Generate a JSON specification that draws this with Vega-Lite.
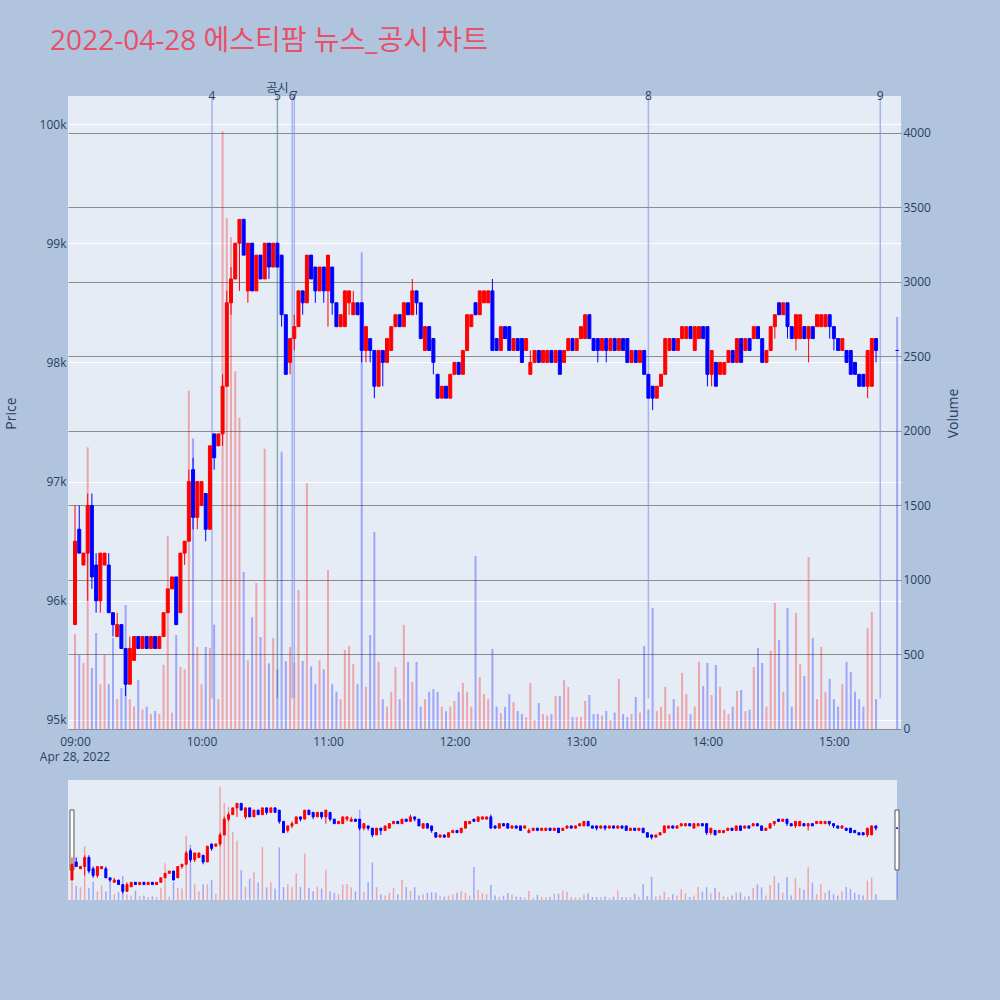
{
"$schema":"https://vega.github.io/schema/vega-lite/v6.json",
"background":"#b0c4de",
"padding":{"left":4,"top":27,"right":40,"bottom":100},
"spacing":16,
"config":{
 "view":{"stroke":null,"fill":"#e5ecf6"},
 "font":"Open Sans"
},
"title":{"text":"2022-04-28 에스티팜 뉴스_공시 차트","anchor":"start","fontSize":28,"color":"#ea4f66","font":"Open Sans, Noto Sans CJK KR","fontWeight":"normal","offset":26,"dx":46},
"data":{"values":[
{"t":"2022-04-28T09:00","o":95800,"h":96800,"l":95800,"c":96500,"v":637},
{"t":"2022-04-28T09:02","o":96600,"h":96800,"l":96400,"c":96400,"v":497},
{"t":"2022-04-28T09:04","o":96300,"h":96400,"l":96300,"c":96400,"v":443},
{"t":"2022-04-28T09:06","o":96400,"h":96900,"l":96000,"c":96800,"v":1890},
{"t":"2022-04-28T09:08","o":96800,"h":96900,"l":96100,"c":96200,"v":410},
{"t":"2022-04-28T09:10","o":96300,"h":96400,"l":95900,"c":96000,"v":644},
{"t":"2022-04-28T09:12","o":96000,"h":96400,"l":95900,"c":96400,"v":300},
{"t":"2022-04-28T09:14","o":96300,"h":96400,"l":96300,"c":96400,"v":500},
{"t":"2022-04-28T09:16","o":96300,"h":96400,"l":95900,"c":95900,"v":300},
{"t":"2022-04-28T09:18","o":95900,"h":95900,"l":95700,"c":95800,"v":610},
{"t":"2022-04-28T09:20","o":95700,"h":95900,"l":95700,"c":95800,"v":200},
{"t":"2022-04-28T09:22","o":95800,"h":95800,"l":95600,"c":95600,"v":275},
{"t":"2022-04-28T09:24","o":95600,"h":95600,"l":95200,"c":95300,"v":832},
{"t":"2022-04-28T09:26","o":95300,"h":95700,"l":95300,"c":95600,"v":200},
{"t":"2022-04-28T09:28","o":95500,"h":95700,"l":95500,"c":95700,"v":150},
{"t":"2022-04-28T09:30","o":95700,"h":95700,"l":95600,"c":95600,"v":329},
{"t":"2022-04-28T09:32","o":95600,"h":95700,"l":95600,"c":95700,"v":130},
{"t":"2022-04-28T09:34","o":95700,"h":95700,"l":95600,"c":95600,"v":150},
{"t":"2022-04-28T09:36","o":95600,"h":95700,"l":95600,"c":95700,"v":100},
{"t":"2022-04-28T09:38","o":95700,"h":95700,"l":95600,"c":95600,"v":120},
{"t":"2022-04-28T09:40","o":95600,"h":95700,"l":95600,"c":95700,"v":100},
{"t":"2022-04-28T09:42","o":95700,"h":95900,"l":95700,"c":95900,"v":430},
{"t":"2022-04-28T09:44","o":95900,"h":96100,"l":95900,"c":96100,"v":1295},
{"t":"2022-04-28T09:46","o":96100,"h":96200,"l":96100,"c":96200,"v":110},
{"t":"2022-04-28T09:48","o":96200,"h":96200,"l":95800,"c":95800,"v":630},
{"t":"2022-04-28T09:50","o":95900,"h":96400,"l":95900,"c":96400,"v":416},
{"t":"2022-04-28T09:52","o":96400,"h":96500,"l":96300,"c":96500,"v":400},
{"t":"2022-04-28T09:54","o":96500,"h":97100,"l":96500,"c":97000,"v":2270},
{"t":"2022-04-28T09:56","o":97100,"h":97200,"l":96600,"c":96700,"v":1950},
{"t":"2022-04-28T09:58","o":96700,"h":97000,"l":96600,"c":97000,"v":550},
{"t":"2022-04-28T10:00","o":96800,"h":97000,"l":96800,"c":97000,"v":300},
{"t":"2022-04-28T10:02","o":96900,"h":96900,"l":96500,"c":96600,"v":550},
{"t":"2022-04-28T10:04","o":96600,"h":97300,"l":96600,"c":97300,"v":545},
{"t":"2022-04-28T10:06","o":97400,"h":97400,"l":97100,"c":97200,"v":700},
{"t":"2022-04-28T10:08","o":97300,"h":97400,"l":97300,"c":97400,"v":200},
{"t":"2022-04-28T10:10","o":97400,"h":97900,"l":97300,"c":97800,"v":4013},
{"t":"2022-04-28T10:12","o":97800,"h":98600,"l":97800,"c":98500,"v":3430},
{"t":"2022-04-28T10:14","o":98500,"h":98800,"l":98400,"c":98700,"v":3300},
{"t":"2022-04-28T10:16","o":98700,"h":99000,"l":98700,"c":99000,"v":2400},
{"t":"2022-04-28T10:18","o":99000,"h":99200,"l":98600,"c":99200,"v":2090},
{"t":"2022-04-28T10:20","o":99200,"h":99200,"l":98900,"c":98900,"v":1054},
{"t":"2022-04-28T10:22","o":98600,"h":99000,"l":98500,"c":99000,"v":460},
{"t":"2022-04-28T10:24","o":99000,"h":99000,"l":98600,"c":98600,"v":750},
{"t":"2022-04-28T10:26","o":98600,"h":98900,"l":98600,"c":98900,"v":980},
{"t":"2022-04-28T10:28","o":98900,"h":98900,"l":98700,"c":98700,"v":617},
{"t":"2022-04-28T10:30","o":98700,"h":99000,"l":98700,"c":99000,"v":1880},
{"t":"2022-04-28T10:32","o":99000,"h":99000,"l":98700,"c":98800,"v":440},
{"t":"2022-04-28T10:34","o":98800,"h":99000,"l":98800,"c":99000,"v":610},
{"t":"2022-04-28T10:36","o":99000,"h":99000,"l":98800,"c":98800,"v":400},
{"t":"2022-04-28T10:38","o":98900,"h":98900,"l":98300,"c":98400,"v":1860},
{"t":"2022-04-28T10:40","o":98400,"h":98400,"l":97900,"c":97900,"v":455},
{"t":"2022-04-28T10:42","o":98000,"h":98200,"l":97900,"c":98200,"v":550},
{"t":"2022-04-28T10:44","o":98200,"h":98400,"l":98100,"c":98300,"v":445},
{"t":"2022-04-28T10:46","o":98300,"h":98600,"l":98300,"c":98600,"v":932},
{"t":"2022-04-28T10:48","o":98600,"h":98600,"l":98400,"c":98500,"v":456},
{"t":"2022-04-28T10:50","o":98500,"h":98900,"l":98500,"c":98900,"v":1650},
{"t":"2022-04-28T10:52","o":98900,"h":98900,"l":98700,"c":98700,"v":420},
{"t":"2022-04-28T10:54","o":98800,"h":98800,"l":98500,"c":98600,"v":300},
{"t":"2022-04-28T10:56","o":98600,"h":98800,"l":98600,"c":98800,"v":460},
{"t":"2022-04-28T10:58","o":98800,"h":98800,"l":98500,"c":98600,"v":400},
{"t":"2022-04-28T11:00","o":98600,"h":98900,"l":98300,"c":98900,"v":1067},
{"t":"2022-04-28T11:02","o":98800,"h":98800,"l":98400,"c":98500,"v":300},
{"t":"2022-04-28T11:04","o":98500,"h":98500,"l":98300,"c":98300,"v":250},
{"t":"2022-04-28T11:06","o":98300,"h":98400,"l":98300,"c":98400,"v":200},
{"t":"2022-04-28T11:08","o":98300,"h":98600,"l":98300,"c":98600,"v":530},
{"t":"2022-04-28T11:10","o":98500,"h":98600,"l":98400,"c":98600,"v":557},
{"t":"2022-04-28T11:12","o":98400,"h":98600,"l":98400,"c":98500,"v":437},
{"t":"2022-04-28T11:14","o":98500,"h":98500,"l":98400,"c":98400,"v":300},
{"t":"2022-04-28T11:16","o":98500,"h":98500,"l":98000,"c":98100,"v":3200},
{"t":"2022-04-28T11:18","o":98100,"h":98300,"l":98000,"c":98300,"v":282},
{"t":"2022-04-28T11:20","o":98200,"h":98200,"l":98000,"c":98100,"v":630},
{"t":"2022-04-28T11:22","o":98100,"h":98100,"l":97700,"c":97800,"v":1322},
{"t":"2022-04-28T11:24","o":97800,"h":98100,"l":97800,"c":98100,"v":450},
{"t":"2022-04-28T11:26","o":98100,"h":98100,"l":97800,"c":98000,"v":200},
{"t":"2022-04-28T11:28","o":98000,"h":98200,"l":98000,"c":98200,"v":150},
{"t":"2022-04-28T11:30","o":98100,"h":98300,"l":98100,"c":98300,"v":250},
{"t":"2022-04-28T11:32","o":98300,"h":98400,"l":98300,"c":98400,"v":416},
{"t":"2022-04-28T11:34","o":98400,"h":98400,"l":98300,"c":98300,"v":200},
{"t":"2022-04-28T11:36","o":98300,"h":98500,"l":98300,"c":98500,"v":698},
{"t":"2022-04-28T11:38","o":98500,"h":98500,"l":98400,"c":98400,"v":450},
{"t":"2022-04-28T11:40","o":98400,"h":98700,"l":98400,"c":98600,"v":315},
{"t":"2022-04-28T11:42","o":98600,"h":98600,"l":98400,"c":98500,"v":450},
{"t":"2022-04-28T11:44","o":98500,"h":98500,"l":98200,"c":98200,"v":150},
{"t":"2022-04-28T11:46","o":98100,"h":98300,"l":98100,"c":98300,"v":200},
{"t":"2022-04-28T11:48","o":98300,"h":98300,"l":98100,"c":98100,"v":250},
{"t":"2022-04-28T11:50","o":98200,"h":98200,"l":97900,"c":98000,"v":268},
{"t":"2022-04-28T11:52","o":97900,"h":97900,"l":97700,"c":97700,"v":250},
{"t":"2022-04-28T11:54","o":97700,"h":97800,"l":97700,"c":97800,"v":150},
{"t":"2022-04-28T11:56","o":97800,"h":97800,"l":97700,"c":97700,"v":120},
{"t":"2022-04-28T11:58","o":97700,"h":97900,"l":97700,"c":97900,"v":150},
{"t":"2022-04-28T12:00","o":97900,"h":98000,"l":97900,"c":98000,"v":188},
{"t":"2022-04-28T12:02","o":98000,"h":98000,"l":97900,"c":97900,"v":250},
{"t":"2022-04-28T12:04","o":97900,"h":98100,"l":97900,"c":98100,"v":309},
{"t":"2022-04-28T12:06","o":98100,"h":98400,"l":98100,"c":98400,"v":250},
{"t":"2022-04-28T12:08","o":98300,"h":98400,"l":98300,"c":98400,"v":150},
{"t":"2022-04-28T12:10","o":98500,"h":98500,"l":98400,"c":98400,"v":1161},
{"t":"2022-04-28T12:12","o":98400,"h":98600,"l":98400,"c":98600,"v":349},
{"t":"2022-04-28T12:14","o":98500,"h":98600,"l":98500,"c":98600,"v":235},
{"t":"2022-04-28T12:16","o":98500,"h":98600,"l":98500,"c":98600,"v":200},
{"t":"2022-04-28T12:18","o":98600,"h":98700,"l":98100,"c":98100,"v":537},
{"t":"2022-04-28T12:20","o":98200,"h":98200,"l":98100,"c":98100,"v":150},
{"t":"2022-04-28T12:22","o":98100,"h":98300,"l":98100,"c":98300,"v":107},
{"t":"2022-04-28T12:24","o":98300,"h":98300,"l":98200,"c":98200,"v":148},
{"t":"2022-04-28T12:26","o":98300,"h":98300,"l":98100,"c":98100,"v":235},
{"t":"2022-04-28T12:28","o":98100,"h":98200,"l":98100,"c":98200,"v":181},
{"t":"2022-04-28T12:30","o":98200,"h":98200,"l":98100,"c":98100,"v":120},
{"t":"2022-04-28T12:32","o":98200,"h":98200,"l":98000,"c":98000,"v":100},
{"t":"2022-04-28T12:34","o":98100,"h":98200,"l":98100,"c":98200,"v":80},
{"t":"2022-04-28T12:36","o":97900,"h":98100,"l":97900,"c":98000,"v":309},
{"t":"2022-04-28T12:38","o":98000,"h":98100,"l":98000,"c":98100,"v":60},
{"t":"2022-04-28T12:40","o":98100,"h":98100,"l":98000,"c":98000,"v":174},
{"t":"2022-04-28T12:42","o":98000,"h":98100,"l":98000,"c":98100,"v":100},
{"t":"2022-04-28T12:44","o":98000,"h":98100,"l":98000,"c":98100,"v":90},
{"t":"2022-04-28T12:46","o":98100,"h":98100,"l":98000,"c":98000,"v":100},
{"t":"2022-04-28T12:48","o":98000,"h":98100,"l":98000,"c":98100,"v":221},
{"t":"2022-04-28T12:50","o":98100,"h":98100,"l":97900,"c":97900,"v":221},
{"t":"2022-04-28T12:52","o":98000,"h":98100,"l":98000,"c":98100,"v":329},
{"t":"2022-04-28T12:54","o":98100,"h":98200,"l":98100,"c":98200,"v":282},
{"t":"2022-04-28T12:56","o":98200,"h":98200,"l":98100,"c":98100,"v":80},
{"t":"2022-04-28T12:58","o":98100,"h":98200,"l":98100,"c":98200,"v":80},
{"t":"2022-04-28T13:00","o":98200,"h":98300,"l":98200,"c":98300,"v":80},
{"t":"2022-04-28T13:02","o":98200,"h":98400,"l":98200,"c":98400,"v":188},
{"t":"2022-04-28T13:04","o":98400,"h":98400,"l":98200,"c":98200,"v":228},
{"t":"2022-04-28T13:06","o":98200,"h":98200,"l":98100,"c":98100,"v":100},
{"t":"2022-04-28T13:08","o":98200,"h":98200,"l":98000,"c":98100,"v":100},
{"t":"2022-04-28T13:10","o":98100,"h":98200,"l":98100,"c":98200,"v":90},
{"t":"2022-04-28T13:12","o":98200,"h":98200,"l":98000,"c":98100,"v":120},
{"t":"2022-04-28T13:14","o":98100,"h":98200,"l":98100,"c":98200,"v":60},
{"t":"2022-04-28T13:16","o":98200,"h":98200,"l":98100,"c":98100,"v":110},
{"t":"2022-04-28T13:18","o":98100,"h":98200,"l":98100,"c":98200,"v":336},
{"t":"2022-04-28T13:20","o":98200,"h":98200,"l":98100,"c":98100,"v":100},
{"t":"2022-04-28T13:22","o":98200,"h":98200,"l":98000,"c":98000,"v":80},
{"t":"2022-04-28T13:24","o":98000,"h":98100,"l":98000,"c":98100,"v":100},
{"t":"2022-04-28T13:26","o":98100,"h":98100,"l":98000,"c":98000,"v":215},
{"t":"2022-04-28T13:28","o":98000,"h":98100,"l":98000,"c":98100,"v":110},
{"t":"2022-04-28T13:30","o":98100,"h":98100,"l":97900,"c":97900,"v":557},
{"t":"2022-04-28T13:32","o":97900,"h":97900,"l":97700,"c":97700,"v":130},
{"t":"2022-04-28T13:34","o":97800,"h":97800,"l":97600,"c":97700,"v":812},
{"t":"2022-04-28T13:36","o":97700,"h":97800,"l":97700,"c":97800,"v":120},
{"t":"2022-04-28T13:38","o":97800,"h":97900,"l":97800,"c":97900,"v":150},
{"t":"2022-04-28T13:40","o":97900,"h":98200,"l":97900,"c":98200,"v":282},
{"t":"2022-04-28T13:42","o":98100,"h":98200,"l":98100,"c":98200,"v":100},
{"t":"2022-04-28T13:44","o":98200,"h":98200,"l":98100,"c":98100,"v":201},
{"t":"2022-04-28T13:46","o":98100,"h":98200,"l":98100,"c":98200,"v":150},
{"t":"2022-04-28T13:48","o":98200,"h":98300,"l":98200,"c":98300,"v":376},
{"t":"2022-04-28T13:50","o":98200,"h":98300,"l":98200,"c":98300,"v":235},
{"t":"2022-04-28T13:52","o":98300,"h":98300,"l":98200,"c":98200,"v":100},
{"t":"2022-04-28T13:54","o":98100,"h":98300,"l":98100,"c":98300,"v":150},
{"t":"2022-04-28T13:56","o":98200,"h":98300,"l":98200,"c":98300,"v":450},
{"t":"2022-04-28T13:58","o":98300,"h":98300,"l":98200,"c":98200,"v":289},
{"t":"2022-04-28T14:00","o":98300,"h":98300,"l":97800,"c":97900,"v":443},
{"t":"2022-04-28T14:02","o":97900,"h":98100,"l":97800,"c":98100,"v":228},
{"t":"2022-04-28T14:04","o":98000,"h":98000,"l":97800,"c":97800,"v":430},
{"t":"2022-04-28T14:06","o":97900,"h":98000,"l":97900,"c":98000,"v":282},
{"t":"2022-04-28T14:08","o":97900,"h":98000,"l":97900,"c":98000,"v":130},
{"t":"2022-04-28T14:10","o":98000,"h":98100,"l":98000,"c":98100,"v":100},
{"t":"2022-04-28T14:12","o":98100,"h":98100,"l":98000,"c":98000,"v":150},
{"t":"2022-04-28T14:14","o":98000,"h":98200,"l":98000,"c":98200,"v":255},
{"t":"2022-04-28T14:16","o":98200,"h":98200,"l":98000,"c":98000,"v":262},
{"t":"2022-04-28T14:18","o":98100,"h":98200,"l":98100,"c":98200,"v":120},
{"t":"2022-04-28T14:20","o":98200,"h":98200,"l":98100,"c":98100,"v":130},
{"t":"2022-04-28T14:22","o":98200,"h":98300,"l":98200,"c":98300,"v":416},
{"t":"2022-04-28T14:24","o":98300,"h":98300,"l":98200,"c":98200,"v":544},
{"t":"2022-04-28T14:26","o":98200,"h":98200,"l":98000,"c":98000,"v":443},
{"t":"2022-04-28T14:28","o":98000,"h":98100,"l":98000,"c":98100,"v":150},
{"t":"2022-04-28T14:30","o":98100,"h":98300,"l":98100,"c":98300,"v":523},
{"t":"2022-04-28T14:32","o":98300,"h":98400,"l":98200,"c":98400,"v":846},
{"t":"2022-04-28T14:34","o":98500,"h":98500,"l":98400,"c":98400,"v":597},
{"t":"2022-04-28T14:36","o":98400,"h":98500,"l":98400,"c":98500,"v":250},
{"t":"2022-04-28T14:38","o":98500,"h":98500,"l":98200,"c":98300,"v":812},
{"t":"2022-04-28T14:40","o":98300,"h":98300,"l":98200,"c":98200,"v":150},
{"t":"2022-04-28T14:42","o":98200,"h":98400,"l":98100,"c":98400,"v":779},
{"t":"2022-04-28T14:44","o":98200,"h":98400,"l":98200,"c":98400,"v":436},
{"t":"2022-04-28T14:46","o":98300,"h":98300,"l":98200,"c":98200,"v":356},
{"t":"2022-04-28T14:48","o":98200,"h":98300,"l":98000,"c":98300,"v":1154},
{"t":"2022-04-28T14:50","o":98300,"h":98300,"l":98200,"c":98200,"v":610},
{"t":"2022-04-28T14:52","o":98300,"h":98400,"l":98300,"c":98400,"v":200},
{"t":"2022-04-28T14:54","o":98300,"h":98400,"l":98300,"c":98400,"v":550},
{"t":"2022-04-28T14:56","o":98300,"h":98400,"l":98300,"c":98400,"v":250},
{"t":"2022-04-28T14:58","o":98400,"h":98400,"l":98200,"c":98300,"v":336},
{"t":"2022-04-28T15:00","o":98300,"h":98300,"l":98100,"c":98200,"v":200},
{"t":"2022-04-28T15:02","o":98200,"h":98200,"l":98100,"c":98100,"v":150},
{"t":"2022-04-28T15:04","o":98100,"h":98200,"l":98100,"c":98200,"v":302},
{"t":"2022-04-28T15:06","o":98100,"h":98100,"l":98000,"c":98000,"v":450},
{"t":"2022-04-28T15:08","o":98100,"h":98100,"l":97900,"c":97900,"v":383},
{"t":"2022-04-28T15:10","o":98000,"h":98000,"l":97900,"c":97900,"v":250},
{"t":"2022-04-28T15:12","o":97900,"h":97900,"l":97800,"c":97800,"v":200},
{"t":"2022-04-28T15:14","o":97900,"h":97900,"l":97800,"c":97800,"v":150},
{"t":"2022-04-28T15:16","o":97800,"h":98100,"l":97700,"c":98100,"v":678},
{"t":"2022-04-28T15:18","o":97800,"h":98200,"l":97800,"c":98200,"v":785},
{"t":"2022-04-28T15:20","o":98200,"h":98200,"l":98000,"c":98100,"v":200},
{"t":"2022-04-28T15:30","o":98100,"h":98100,"l":98100,"c":98100,"v":2765}
]},
"vconcat":[
{
 "width":833,"height":634,
 "layer":[
  {"layer":[
   {"mark":{"type":"bar","width":2,"opacity":0.3},
    "encoding":{
     "x":{"field":"t","type":"temporal","scale":{"padding":0,"domain":[{"year":2022,"month":4,"date":28,"hours":8,"minutes":56,"seconds":40},{"year":2022,"month":4,"date":28,"hours":15,"minutes":31,"seconds":50}]},
      "axis":{"title":null,"format":"%H:%M","values":[{"year":2022,"month":4,"date":28,"hours":9},{"year":2022,"month":4,"date":28,"hours":10},{"year":2022,"month":4,"date":28,"hours":11},{"year":2022,"month":4,"date":28,"hours":12},{"year":2022,"month":4,"date":28,"hours":13},{"year":2022,"month":4,"date":28,"hours":14},{"year":2022,"month":4,"date":28,"hours":15}],"grid":false,"ticks":false,"domain":false,"labelFlush":false,"labelOverlap":false,"labelPadding":6,"labelColor":"#2a3f5f","labelFontSize":12,"labelFont":"Open Sans"}},
     "y":{"field":"v","type":"quantitative","scale":{"domain":[-7,4248],"nice":false,"zero":false},
      "axis":{"orient":"right","title":"Volume","values":[0,500,1000,1500,2000,2500,3000,3500,4000],"format":"d","grid":true,"gridColor":"#8c8c8c","gridWidth":1,"ticks":false,"domain":false,"labelPadding":2,"titlePadding":30,"titleAngle":270,"labelColor":"#2a3f5f","titleColor":"#2a3f5f","labelFontSize":12,"titleFontSize":14,"titleFontWeight":"normal","labelFont":"Open Sans","titleFont":"Open Sans"}},
     "y2":{"datum":0},
     "color":{"condition":{"test":"datum.c > datum.o","value":"#ff0000"},"value":"#0000ff"}
    }},
   {"data":{"values":[{}]},
    "mark":{"type":"text","fontSize":12,"baseline":"middle","align":"center","color":"#2a3f5f","font":"Open Sans","text":"Apr 28, 2022"},
    "encoding":{
     "x":{"datum":{"year":2022,"month":4,"date":28,"hours":9},"type":"temporal"},
     "y":{"datum":-190}
    }},
   {"data":{"values":[
     {"t":"2022-04-28T10:05","n":"4","k":"뉴스"},
     {"t":"2022-04-28T10:36","n":"5","k":"공시"},
     {"t":"2022-04-28T10:43","n":"6","k":"뉴스"},
     {"t":"2022-04-28T10:44","n":"7","k":"뉴스"},
     {"t":"2022-04-28T13:32","n":"8","k":"뉴스"},
     {"t":"2022-04-28T15:22","n":"9","k":"뉴스"}]},
    "layer":[
     {"mark":{"type":"rule","strokeWidth":1.5,"opacity":0.6},
      "encoding":{
       "x":{"field":"t","type":"temporal"},
       "y":{"datum":206},
       "y2":{"datum":4248},
       "color":{"field":"k","type":"nominal","scale":{"domain":["뉴스","공시"],"range":["#7b8cf0","#3f7f80"]},"legend":null}
      }},
     {"mark":{"type":"text","fontSize":12,"baseline":"middle","color":"#2a3f5f","font":"Open Sans"},
      "encoding":{
       "x":{"field":"t","type":"temporal"},
       "y":{"datum":4248},
       "text":{"field":"n"}
      }},
     {"transform":[{"filter":"datum.k=='공시'"}],
      "mark":{"type":"text","fontSize":12,"baseline":"middle","color":"#2a3f5f","font":"Noto Sans CJK KR"},
      "encoding":{
       "x":{"field":"t","type":"temporal"},
       "y":{"datum":4305},
       "text":{"field":"k"}
      }}
    ]}
  ]},
  {"layer":[
   {"mark":{"type":"rule","strokeWidth":1},
    "encoding":{
     "x":{"field":"t","type":"temporal"},
     "y":{"field":"l","type":"quantitative","scale":{"domain":[94916,100235],"nice":false,"zero":false},
      "axis":{"title":"Price","values":[95000,96000,97000,98000,99000,100000],"format":"~s","grid":true,"gridColor":"#ffffff","gridWidth":1,"ticks":false,"domain":false,"labelPadding":2,"titlePadding":21,"labelColor":"#2a3f5f","titleColor":"#2a3f5f","labelFontSize":12,"titleFontSize":14,"titleFontWeight":"normal","labelFont":"Open Sans","titleFont":"Open Sans"}},
     "y2":{"field":"h"},
     "color":{"condition":{"test":"datum.c > datum.o","value":"#ff0000"},"value":"#0000ff"}
    }},
   {"mark":{"type":"bar","width":3,"strokeWidth":1},
    "encoding":{
     "x":{"field":"t","type":"temporal"},
     "y":{"field":"o","type":"quantitative"},
     "y2":{"field":"c"},
     "fill":{"condition":{"test":"datum.c > datum.o","value":"#ff0000"},"value":"#0000ff"},
     "stroke":{"condition":{"test":"datum.c > datum.o","value":"#ff0000"},"value":"#0000ff"}
    }}
  ]}
 ],
 "resolve":{"scale":{"y":"independent"},"axis":{"y":"independent"}}
},
{
 "width":829,"height":120,
 "layer":[
  {"layer":[
   {"mark":{"type":"bar","width":1.5,"opacity":0.3},
    "encoding":{
     "x":{"field":"t","type":"temporal","scale":{"padding":0,"domain":[{"year":2022,"month":4,"date":28,"hours":8,"minutes":58,"seconds":7},{"year":2022,"month":4,"date":28,"hours":15,"minutes":30}]},"axis":null},
     "y":{"field":"v","type":"quantitative","scale":{"domain":[-7,4248],"nice":false,"zero":false},"axis":null},
     "y2":{"datum":0},
     "color":{"condition":{"test":"datum.c > datum.o","value":"#ff0000"},"value":"#0000ff"}
    }},
   {"data":{"values":[{}]},
    "mark":{"type":"bar","width":4,"fill":"#ffffff","stroke":"#555555","strokeWidth":1},
    "encoding":{
     "x":{"datum":{"year":2022,"month":4,"date":28,"hours":9,"minutes":0},"type":"temporal","axis":null},
     "y":{"datum":1057,"axis":null},
     "y2":{"datum":3184}
    }},
   {"data":{"values":[{}]},
    "mark":{"type":"bar","width":4,"fill":"#ffffff","stroke":"#555555","strokeWidth":1},
    "encoding":{
     "x":{"datum":{"year":2022,"month":4,"date":28,"hours":15,"minutes":30},"type":"temporal","axis":null},
     "y":{"datum":1057,"axis":null},
     "y2":{"datum":3184}
    }}
  ]},
  {"layer":[
   {"mark":{"type":"rule","strokeWidth":1},
    "encoding":{
     "x":{"field":"t","type":"temporal","axis":null},
     "y":{"field":"l","type":"quantitative","scale":{"domain":[94916,100235],"nice":false,"zero":false},"axis":null},
     "y2":{"field":"h"},
     "color":{"condition":{"test":"datum.c > datum.o","value":"#ff0000"},"value":"#0000ff"}
    }},
   {"mark":{"type":"bar","width":2,"strokeWidth":1},
    "encoding":{
     "x":{"field":"t","type":"temporal","axis":null},
     "y":{"field":"o","type":"quantitative","axis":null},
     "y2":{"field":"c"},
     "fill":{"condition":{"test":"datum.c > datum.o","value":"#ff0000"},"value":"#0000ff"},
     "stroke":{"condition":{"test":"datum.c > datum.o","value":"#ff0000"},"value":"#0000ff"}
    }}
  ]}
 ],
 "resolve":{"scale":{"y":"independent"}}
}
]
}
